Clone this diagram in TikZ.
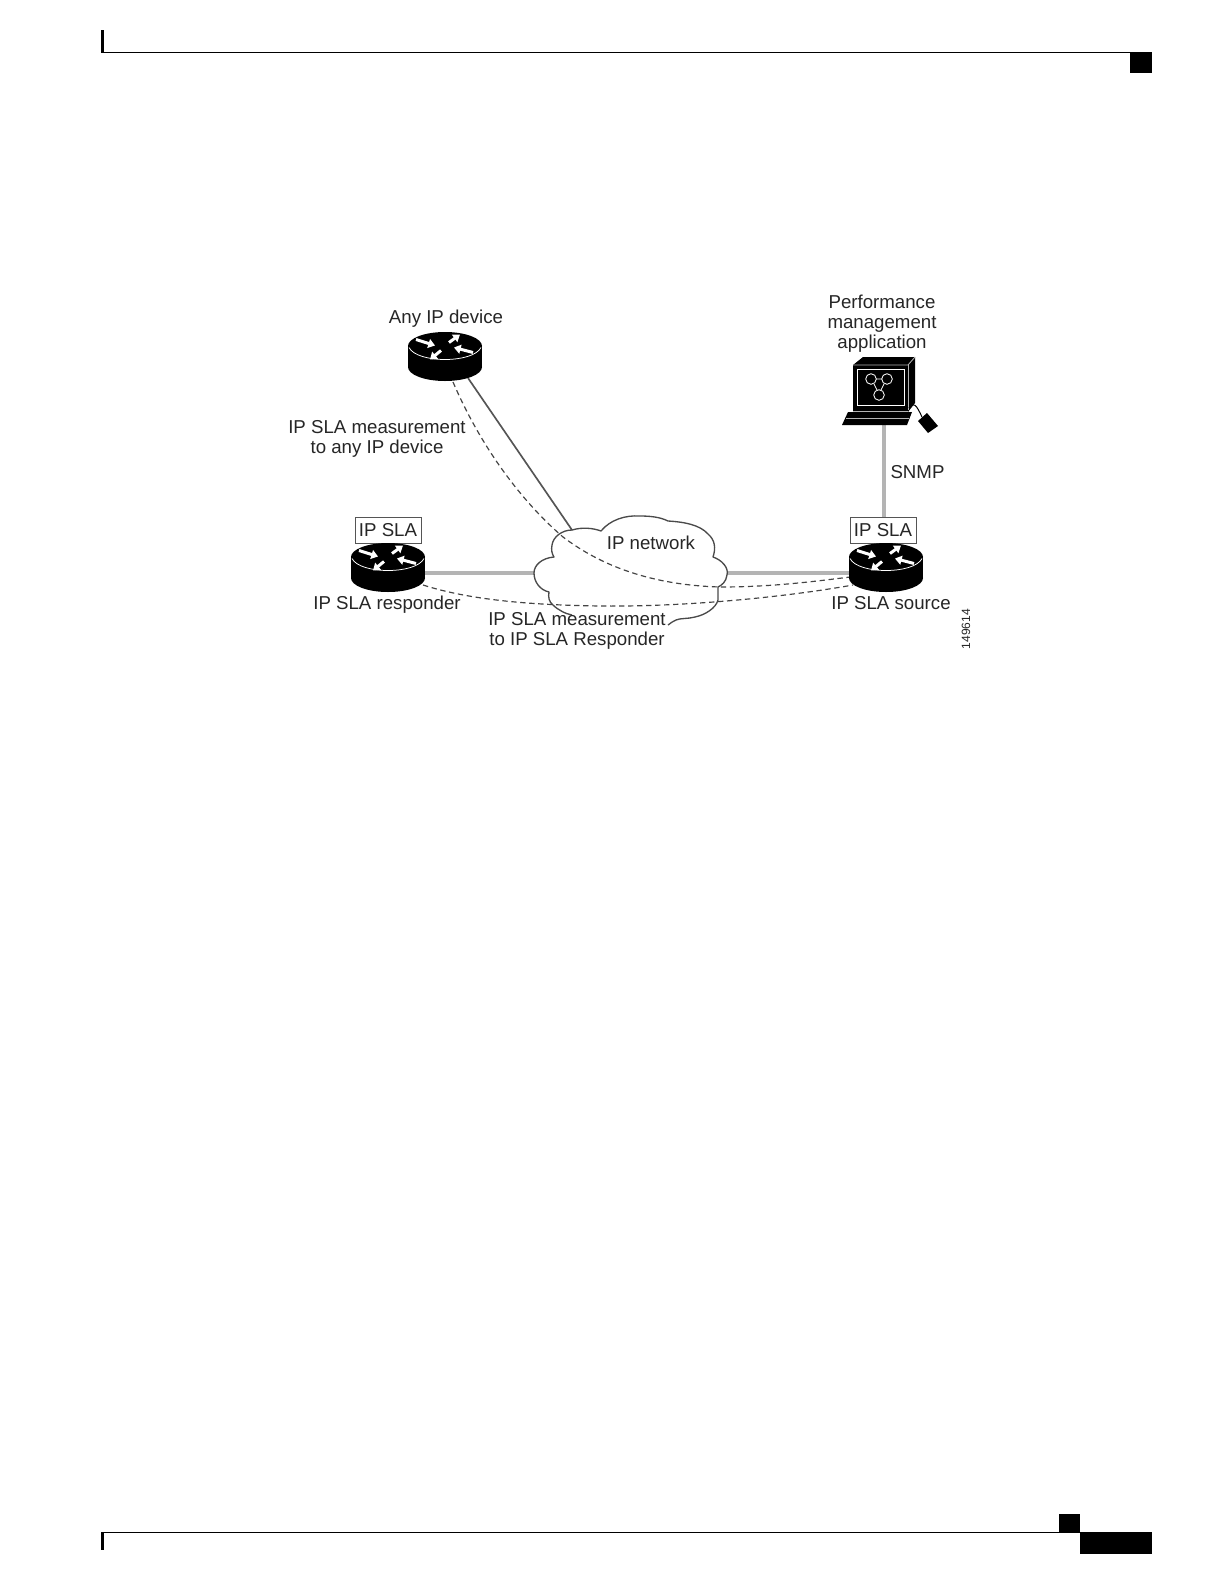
\documentclass[tikz,border=0pt]{standalone}
\usepackage{fontspec}
\setmainfont{Liberation Sans}
\usetikzlibrary{arrows.meta}
\definecolor{inktext}{HTML}{262626}
\definecolor{wiregray}{HTML}{B4B4B4}
\definecolor{wiredark}{HTML}{555555}
\definecolor{dashink}{HTML}{444444}
\definecolor{cloudink}{HTML}{4A4A4A}
\tikzset{
  lbl/.style={inner sep=0pt,align=center,text=inktext,font=\fontsize{11.2pt}{12pt}\selectfont},
  slabox/.style={draw=wiredark,line width=0.6pt,fill=white,inner sep=0pt,minimum width=39.6pt,minimum height=15.6pt,text=inktext,font=\fontsize{11.2pt}{12pt}\selectfont},
  routerhold/.style={inner sep=0pt,minimum width=44.4pt,minimum height=29.4pt},
  thickwire/.style={draw=wiregray,line width=1.9pt},
  darkwire/.style={draw=wiredark,line width=1pt},
  meas/.style={draw=dashink,line width=0.7pt,dash pattern=on 3.2pt off 2.2pt},
  cloudline/.style={draw=cloudink,line width=0.8pt,line join=round},
  rarrow/.style={draw=white,line width=1.8pt,-{Triangle[length=4pt,width=5.4pt,fill=white]}},
  routericon/.pic={
    \fill[black] (0,-10.5) ellipse [x radius=37,y radius=14];
    \fill[black] (0,10.5) ellipse [x radius=37,y radius=14];
    \fill[black] (-37,-10.5) rectangle (37,10.5);
    \draw[white,line width=0.45pt] (-36,-9) .. controls (-28,7) and (28,7) .. (36,-9);
    \draw[rarrow] (-29,-17) -- (-10,-11);
    \draw[rarrow] (28,-4) -- (9,-9);
    \draw[rarrow] (4,-14) -- (15,-22);
    \draw[rarrow] (-4,-6) -- (-15,3);
  }
}
\begin{document}
\begin{tikzpicture}[x=0.6pt,y=-0.6pt]
\useasboundingbox (0,0) rectangle (1224,1584);
\fill[white] (0,0) rectangle (1224,1584);
% page furniture
\fill[black] (101,30) rectangle (104,53);
\fill[black] (101,51.5) rectangle (1130,53);
\fill[black] (1130,52) rectangle (1152,73);
\fill[black] (101,1532) rectangle (104,1550);
\fill[black] (101,1531.5) rectangle (1080,1533);
\fill[black] (1059,1514) rectangle (1080,1532);
\fill[black] (1080,1532) rectangle (1152,1554);
% anchors
\node[routerhold] (r1) at (445,356.5) {};
\node[routerhold] (r2) at (388,567.5) {};
\node[routerhold] (r3) at (886,567.5) {};
\coordinate (r1solid) at (468,378);
\coordinate (cloudtop) at (572,530);
\coordinate (r2wire) at (420,573);
\coordinate (cloudW) at (534,573);
\coordinate (cloudE) at (727,573);
\coordinate (r3wire) at (852,573);
\coordinate (pcfoot) at (884,424);
\coordinate (r1dash) at (453,382);
\coordinate (r3dashA) at (850,577);
\coordinate (r2dash) at (423,585);
\coordinate (r3dashB) at (853,585);
% connectors
\draw[darkwire] (r1solid) -- (cloudtop);
\draw[thickwire] (r2wire) -- (cloudW);
\draw[thickwire] (cloudE) -- (r3wire);
\node[slabox] (box2) at (388,530) {IP SLA};
\node[slabox] (box3) at (883,530) {IP SLA};
\draw[thickwire] (pcfoot) -- (pcfoot |- box3.north);
% cloud
\draw[cloudline] (cloudtop) .. controls (582,527) and (593,528) .. (601,531)
  .. controls (610,520) and (625,515) .. (640,516)
  .. controls (650,516) and (660,517) .. (668,521)
  .. controls (685,522) and (700,525) .. (708,534)
  .. controls (715,540) and (716,548) .. (713,557)
  .. controls (722,560) and (729,568) .. (727,575)
  .. controls (726,582) and (722,585) .. (718,587)
  -- (718,600)
  .. controls (716,608) and (705,615) .. (695,617)
  .. controls (688,619) and (680,618) .. (676,620)
  .. controls (673,621) and (671,623) .. (668,625);
\draw[cloudline] (cloudtop) .. controls (562,530) and (553,537) .. (552,545)
  .. controls (551,550) and (552,554) .. (554,557)
  .. controls (542,558) and (534,565) .. (534,573)
  .. controls (534,582) and (540,590) .. (549,592)
  .. controls (548,597) and (549,602) .. (553,605)
  .. controls (558,610) and (566,614) .. (572,615);
% measurement paths
\draw[meas] (r1dash) .. controls (480,445) and (520,500) .. (563,537)
  .. controls (600,565) and (650,585) .. (720,587)
  .. controls (770,587) and (810,582) .. (r3dashA);
\draw[meas] (r2dash) .. controls (470,600) and (530,605) .. (600,606)
  .. controls (680,607) and (780,598) .. (r3dashB);
% routers
\pic at (r1) {routericon};
\pic at (r2) {routericon};
\pic at (r3) {routericon};
% management station
\fill[black] (853,365) -- (863,357) -- (915,357) -- (915,403) -- (908,412) -- (853,412) -- cycle;
\draw[wiregray,line width=0.5pt] (853,365) -- (908,365) -- (915,357);
\draw[wiregray,line width=0.5pt] (908,365) -- (908,410);
\draw[white,line width=0.5pt] (857,369) rectangle (904,405);
\foreach \cx/\cy in {871/379,887/379,879/395} \draw[white,line width=0.5pt] (\cx,\cy) circle [radius=5.3];
\draw[white,line width=0.5pt] (876,379) -- (882,379) (874,384) -- (877,390) (884,384) -- (881,390);
\fill[black] (848,412) -- (912,412) -- (907,425) -- (842,425) -- cycle;
\draw[wiregray,line width=0.5pt] (853,411) -- (908,411);
\draw[wiregray,line width=0.5pt] (846,418) -- (909,418);
\draw[black,line width=0.6pt] (909,408) .. controls (913,400) and (917,406) .. (922,417);
\fill[black] (927,413) -- (938,426) -- (928,433) -- (918,421) -- cycle;
% labels
\node[lbl] (anyip) at (446,319) {Any IP device};
\node[lbl] (perf) at (882,324) {Performance\\management\\application};
\node[lbl] (meas1) at (377,438.5) {IP SLA measurement\\to any IP device};
\node[lbl] (snmp) at (917.5,472) {SNMP};
\node[lbl] (ipnet) at (651,543) {IP network};
\node[lbl] (resp) at (387,605) {IP SLA responder};
\node[lbl] (src) at (891,603) {IP SLA source};
\node[lbl] (meas2) at (577,631) {IP SLA measurement\\to IP SLA Responder};
\node[lbl,rotate=90,font=\fontsize{7.2pt}{8pt}\selectfont] (figid) at (966,629) {149614};
\end{tikzpicture}
\end{document}
